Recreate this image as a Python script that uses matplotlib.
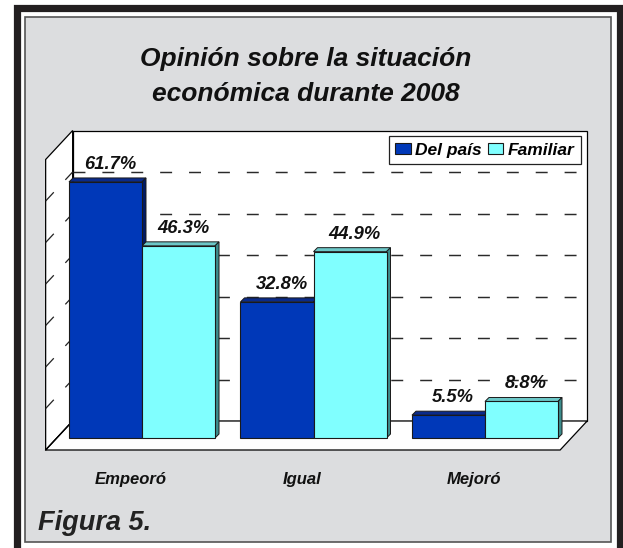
import matplotlib
matplotlib.use('Agg')
import matplotlib.pyplot as plt
from matplotlib.patches import Rectangle, Polygon, Patch
from matplotlib.transforms import offset_copy

categorias = ['Empeoró', 'Igual', 'Mejoró']
del_pais = [61.7, 32.8, 5.5]
familiar = [46.3, 44.9, 8.8]
series = ['Del país', 'Familiar']
grid_vals = [10, 20, 30, 40, 50, 60]

plt.rcParams['font.family'] = ['Liberation Sans', 'DejaVu Sans']
plt.rcParams['lines.scale_dashes'] = False

W, H = 623, 548
fig = plt.figure(figsize=(W / 100, H / 100), dpi=100)
fig.patch.set_facecolor('white')

def fx(px):
    return px / W

def fy(py):
    return 1 - py / H

# marco negro y panel gris
fig.patches.append(Rectangle((fx(16.5), fy(560)), fx(619.5) - fx(16.5), fy(8) - fy(560),
                             transform=fig.transFigure, fill=False,
                             edgecolor='#231f20', lw=5.2, zorder=-10))
fig.patches.append(Rectangle((fx(24.5), fy(542)), fx(610.5) - fx(24.5), fy(16.5) - fy(542),
                             transform=fig.transFigure, facecolor='#dcdddf',
                             edgecolor='#555555', lw=1.2, zorder=-10))

# ejes en el plano frontal de las barras
ax = fig.add_axes([fx(56.25), fy(438), fx(570.75) - fx(56.25), 70 * 4.15 / H])
ax.set_zorder(1)
ax.set_xlim(-0.5, 2.5)
ax.set_ylim(0, 70)
ax.axis('off')
ax.patch.set_visible(False)

back = offset_copy(ax.transData, fig, x=16.4, y=17, units='dots')
back_ax = offset_copy(ax.transAxes, fig, x=16.4, y=17, units='dots')
DX, DY = -27, -29  # profundidad del piso / pared lateral

def px_shift(x, y, dx, dy, tr):
    p = tr.transform((x, y))
    return ax.transData.inverted().transform((p[0] + dx, p[1] + dy))

# pared del fondo
ax.add_patch(Rectangle((0, 0), 1, 1, transform=back_ax, facecolor='white',
                       edgecolor='black', lw=0.9, zorder=1, clip_on=False))
# pared lateral
p0 = px_shift(-0.5, 0, 0, 0, back)
p1 = px_shift(-0.5, 70, 0, 0, back)
p2 = px_shift(-0.5, 70, DX, DY, back)
p3 = px_shift(-0.5, 0, DX, DY, back)
ax.add_patch(Polygon([p0, p1, p2, p3], closed=True, facecolor='white',
                     edgecolor='black', lw=0.9, zorder=1, clip_on=False))
# piso
q0 = px_shift(-0.5, 0, 0, 0, back)
q1 = px_shift(2.5, 0, 0, 0, back)
q2 = px_shift(2.5, 0, DX, DY, back)
q3 = px_shift(-0.5, 0, DX, DY, back)
ax.add_patch(Polygon([q0, q1, q2, q3], closed=True, facecolor='white',
                     edgecolor='black', lw=0.9, zorder=1, clip_on=False))

# lineas de division punteadas
dash = (0, (8.6, 12.2))
for v in grid_vals:
    ax.plot([-0.5, 2.5], [v, v], transform=back, color='#2a2a2a', lw=1.05,
            linestyle=dash, zorder=2, clip_on=False)
    a = px_shift(-0.5, v, DX, DY, back)
    b = px_shift(-0.5, v, 0, 0, back)
    ax.plot([a[0], b[0]], [a[1], b[1]], color='#222222', lw=0.9,
            linestyle=dash, zorder=2, clip_on=False)
a = px_shift(-0.5, 0, DX, DY, back)
b = px_shift(-0.5, 0, 0, 0, back)
ax.plot([a[0], b[0]], [a[1], b[1]], color='black', lw=0.9, zorder=2, clip_on=False)

# barras 3D
bw = 0.4257
colores = [('#0038b8', '#0a2a8a', '#001a66'), ('#80ffff', '#6cc8c8', '#3c8c8c')]
vals = [del_pais, familiar]
d = 4
for s in range(2):
    xs = [i + (s - 0.5) * bw for i in range(len(categorias))]
    front, top_c, side_c = colores[s]
    ax.bar(xs, vals[s], width=bw, color=front, edgecolor='#1a1a1a', lw=0.8,
           zorder=4, label=series[s], clip_on=False)
    for x, h in zip(xs, vals[s]):
        x0, x1 = x - bw / 2, x + bw / 2
        t = [(x0, h), (x1, h), px_shift(x1, h, d, d, ax.transData), px_shift(x0, h, d, d, ax.transData)]
        ax.add_patch(Polygon(t, closed=True, facecolor=top_c, edgecolor='#1a1a1a',
                             lw=0.7, zorder=3, clip_on=False))
        sd = [(x1, 0), (x1, h), px_shift(x1, h, d, d, ax.transData), px_shift(x1, 0, d, d, ax.transData)]
        ax.add_patch(Polygon(sd, closed=True, facecolor=side_c, edgecolor='#1a1a1a',
                             lw=0.7, zorder=3, clip_on=False))
        ax.text(x, h, f'{h:.1f}%', transform=offset_copy(ax.transData, fig, x=4.5, y=13, units='dots'),
                ha='center', va='baseline', fontsize=13.2, fontweight='bold', style='italic',
                color='#111111', zorder=6)

# etiquetas de categoria
for i, c in enumerate(categorias):
    ax.text(i, 0, c, transform=offset_copy(ax.transData, fig, x=-11, y=-46, units='dots'),
            ha='center', va='baseline', fontsize=12, fontweight='bold', style='italic',
            color='#111111')

# leyenda
handles = [Patch(facecolor=colores[0][0], edgecolor='#1a1a1a', lw=0.8),
           Patch(facecolor=colores[1][0], edgecolor='#1a1a1a', lw=0.8)]
leg = fig.legend(handles, series, loc='upper right', bbox_to_anchor=(fx(580.5), fy(136.5)),
                 ncol=2, frameon=True, fancybox=False, edgecolor='#222222', framealpha=1,
                 prop={'size': 12.5, 'weight': 'bold', 'style': 'italic'},
                 handlelength=0.9, handleheight=0.6, handletextpad=0.25,
                 columnspacing=0.35, borderpad=0.35, borderaxespad=0)
leg.get_frame().set_linewidth(0.9)
leg.set_zorder(10)

# titulo
fig.text(fx(306), fy(66), 'Opinión sobre la situación', ha='center', va='baseline',
         fontsize=19, fontweight='bold', style='italic', color='#111111')
fig.text(fx(306), fy(101), 'económica durante 2008', ha='center', va='baseline',
         fontsize=19, fontweight='bold', style='italic', color='#111111')

fig.text(fx(38), fy(530), 'Figura 5.', ha='left', va='baseline', fontsize=19.5,
         fontweight='bold', style='italic', color='#222222')

fig.savefig('out.png', dpi=100)
